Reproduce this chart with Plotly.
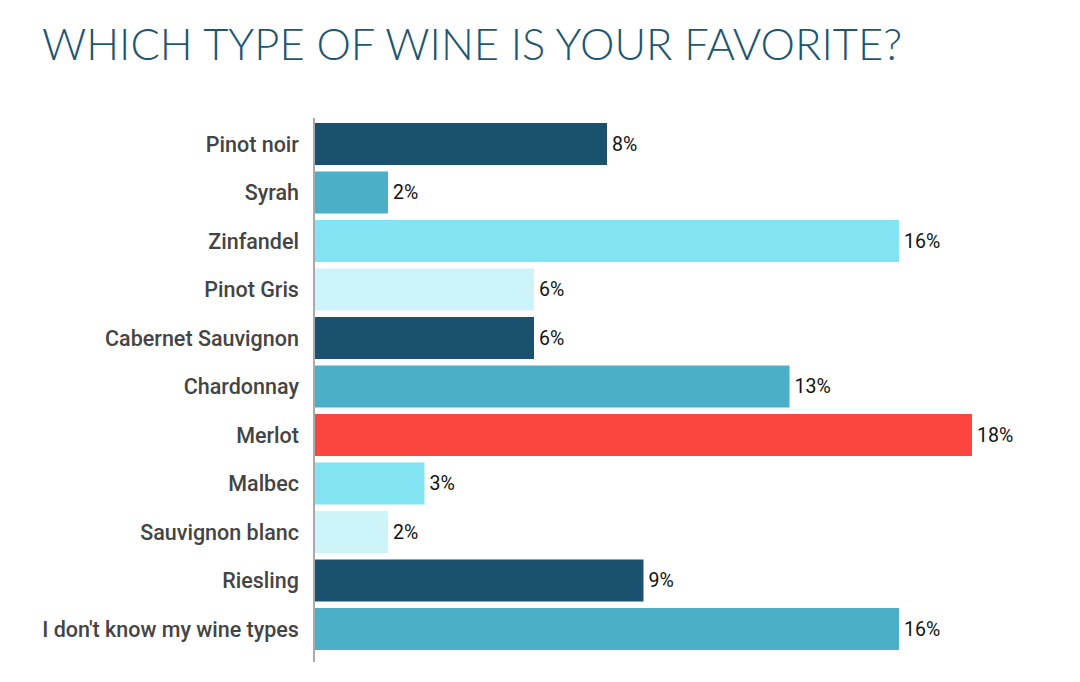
import plotly.graph_objects as go

categories = ["Pinot noir", "Syrah", "Zinfandel", "Pinot Gris", "Cabernet Sauvignon",
              "Chardonnay", "Merlot", "Malbec", "Sauvignon blanc", "Riesling",
              "I don't know my wine types"]
values = [8, 2, 16, 6, 6, 13, 18, 3, 2, 9, 16]
colors = ["#1a516e", "#4aafc7", "#82e3f3", "#cdf4f9", "#1a516e", "#4aafc7",
          "#fb4640", "#82e3f3", "#cdf4f9", "#1a516e", "#4aafc7"]
labels = [f"\u200a{v}%" for v in values]
title = "WHICH TYPE OF WINE IS YOUR FAVORITE?"

fig = go.Figure(go.Bar(
    x=values, y=categories, orientation="h",
    marker=dict(color=colors, line=dict(width=0)),
    text=labels, textposition="outside", cliponaxis=False,
    textfont=dict(family="Roboto", size=19.5, color="#111111"),
    width=0.87,
))

fig.update_layout(
    width=1080, height=682,
    margin=dict(l=315, r=35, t=118, b=20),
    paper_bgcolor="white", plot_bgcolor="white",
    title=dict(text=title, x=42/1080, xanchor="left", y=1-45/682, yanchor="middle",
               font=dict(family="Lato", size=43.5, color="#1d5670", weight=300)),
    showlegend=False,
    xaxis=dict(range=[0, 20], visible=False, fixedrange=True),
    yaxis=dict(categoryorder="array", categoryarray=categories,
               range=[10.68, -0.536], showline=True, linecolor="#aaaaaa", linewidth=1.5,
               showgrid=False, zeroline=False, ticks="", ticklabelstandoff=10,
               tickfont=dict(family="Roboto", size=21.5, color="#444444", weight=500)),
)

fig.write_html("out.html")
